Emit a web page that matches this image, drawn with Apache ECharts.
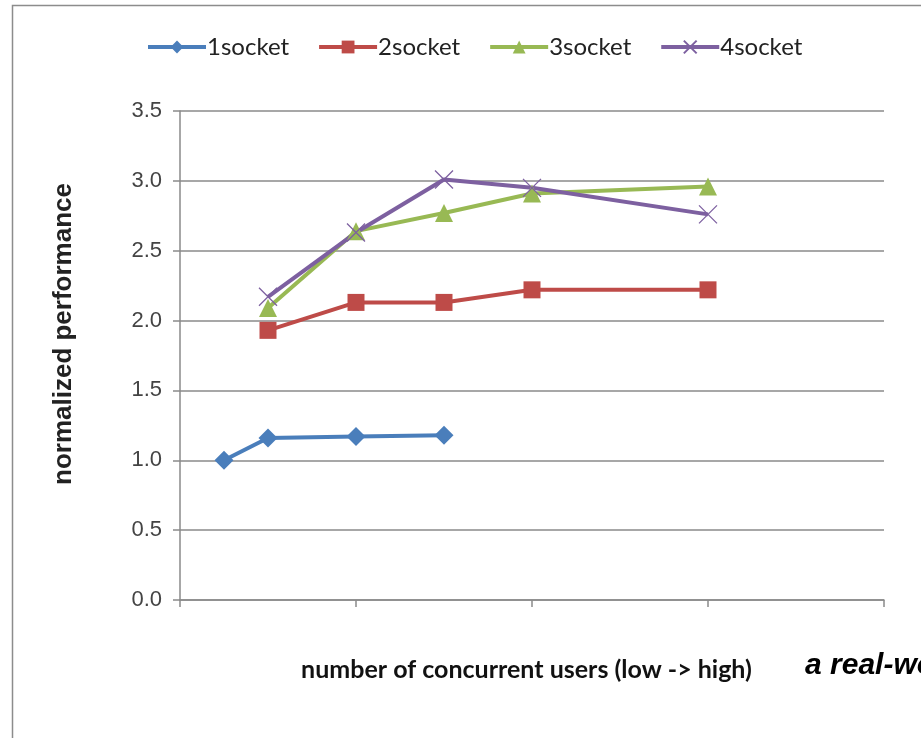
<!DOCTYPE html>
<html>
<head>
<meta charset="utf-8">
<script src="https://cdn.jsdelivr.net/npm/echarts@6/dist/echarts.min.js"></script>
<style>
  html, body { margin: 0; padding: 0; background: #fff; }
  #chart { width: 921px; height: 738px; }
</style>
</head>
<body>
<div id="chart"></div>
<script>
// Relative load level (position along the concurrent-users axis)
const userLevels = [0.25, 0.5, 1, 1.5, 2, 3];

// Normalized performance per socket configuration
const seriesNames = ['1socket', '2socket', '3socket', '4socket'];
const socket1 = [[0.25, 1.00], [0.5, 1.16], [1, 1.17], [1.5, 1.18]];
const socket2 = [[0.5, 1.93], [1, 2.13], [1.5, 2.13], [2, 2.22], [3, 2.22]];
const socket3 = [[0.5, 2.09], [1, 2.64], [1.5, 2.77], [2, 2.91], [3, 2.96]];
const socket4 = [[0.5, 2.17], [1, 2.63], [1.5, 3.01], [2, 2.95], [3, 2.76]];

const yTicks = [0, 0.5, 1, 1.5, 2, 2.5, 3, 3.5];

const colors = ['#4A7EBB', '#BE4B48', '#98B954', '#7D60A0'];
const crossPath = 'path://M0,0L10,10M10,0L0,10';

const chart = echarts.init(document.getElementById('chart'));

function lineSeries(name, data, color, symbol, size, extra) {
  return Object.assign({
    name: name,
    type: 'line',
    data: data,
    symbol: symbol,
    symbolSize: size,
    showAllSymbol: true,
    lineStyle: { color: color, width: 4 },
    itemStyle: { color: color },
    emphasis: { disabled: true },
    animation: false,
    z: 3
  }, extra || {});
}

chart.setOption({
  backgroundColor: '#ffffff',
  animation: false,
  color: colors,
  legend: {
    top: 30,
    left: 141,
    itemWidth: 58,
    itemHeight: 16,
    itemGap: 28,
    lineStyle: { width: 4 },
    textStyle: { fontFamily: 'Lato', fontSize: 24, color: '#222', padding: [0, 0, 0, -4] },
    data: seriesNames
  },
  grid: { left: 180, right: 37, top: 111, bottom: 138 },
  xAxis: {
    type: 'value',
    min: 0,
    max: 4,
    interval: 1,
    name: 'number of concurrent users (low -> high)',
    nameLocation: 'middle',
    nameGap: 57,
    nameTextStyle: { fontFamily: 'Lato', fontWeight: 'bold', fontSize: 25, color: '#111', padding: [0, 11, 0, 0] },
    axisLine: { show: true, lineStyle: { color: '#8a8a8a', width: 1.5 } },
    axisTick: { show: true, inside: false, length: 7, lineStyle: { color: '#8a8a8a', width: 1.5 } },
    axisLabel: { show: false },
    splitLine: { show: false }
  },
  yAxis: {
    type: 'value',
    min: yTicks[0],
    max: yTicks[yTicks.length - 1],
    interval: 0.5,
    axisLine: { show: true, lineStyle: { color: '#8a8a8a', width: 1.5 } },
    axisTick: { show: true, inside: false, length: 7, lineStyle: { color: '#8a8a8a', width: 1.5 } },
    axisLabel: {
      fontFamily: 'Liberation Sans', fontSize: 22, color: '#444', margin: 18,
      formatter: v => v.toFixed(1)
    },
    splitLine: { show: true, lineStyle: { color: '#8a8a8a', width: 1.5 } }
  },
  graphic: [
    {
      type: 'rect',
      shape: { x: 12.5, y: 5.5, width: 1000, height: 1000 },
      style: { fill: 'none', stroke: '#8c8c8c', lineWidth: 1.5 },
      silent: true
    },
    {
      // vertical axis title
      type: 'text',
      x: 64,
      y: 334,
      rotation: Math.PI / 2,
      style: {
        text: 'normalized performance',
        font: 'bold 26px "Liberation Sans"',
        fill: '#222',
        align: 'center',
        verticalAlign: 'middle'
      },
      silent: true
    },
    {
      type: 'text',
      left: 805,
      top: 651,
      style: {
        text: 'a real-world',
        font: 'italic bold 30px "Liberation Sans"',
        fill: '#000'
      },
      silent: true
    }
  ],
  series: [
    lineSeries(seriesNames[0], socket1, colors[0], 'diamond', 19),
    lineSeries(seriesNames[1], socket2, colors[1], 'rect', 17),
    lineSeries(seriesNames[2], socket3, colors[2], 'triangle', 18),
    lineSeries(seriesNames[3], socket4, colors[3], crossPath, 18, {
      itemStyle: { color: 'none', borderColor: colors[3], borderWidth: 1.3 }
    })
  ]
});
</script>
</body>
</html>
